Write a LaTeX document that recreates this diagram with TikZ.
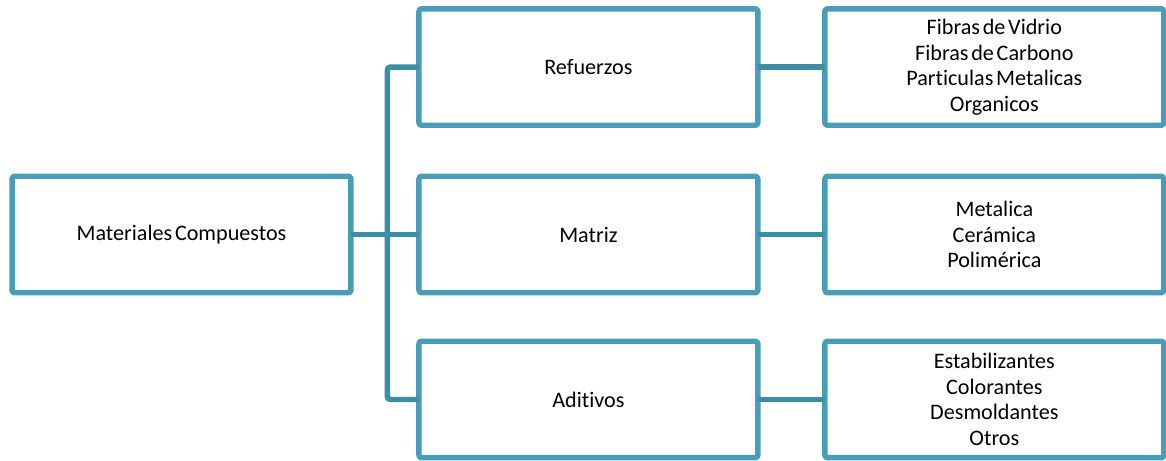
\documentclass[tikz,border=0pt]{standalone}
\usepackage{fontspec}
\setmainfont{Carlito}[Ligatures=NoCommon,WordSpace=0.55]
\usetikzlibrary{positioning}
\definecolor{boxblue}{RGB}{74,157,182}
\definecolor{linkblue}{RGB}{60,142,165}
\tikzset{every picture/.style={
  line join=round               % Soft joins on all strokes.
  }
}

\begin{document}
\begin{tikzpicture}[
    x=0.02cm,y=-0.02cm,
    node distance=1cm and 1.36cm,
    bx/.style={
      rectangle,
      rounded corners=1.5pt,
      draw=boxblue,
      line width=3.1pt,
      outer sep=0pt,
      minimum width=6.78cm,
      minimum height=2.33cm,
      align=center,
      font=\fontsize{12.6}{14.5}\selectfont
    },
    link/.style={
      draw=linkblue,
      line width=3.1pt,
      rounded corners=1.5pt
    }]

    % Fix the page to the size of the reference.
    \useasboundingbox (0,0) rectangle (1166,460);

    % The root box.
    \node[bx] (comp) at (181.5,234.5) {Materiales Compuestos};

    % The three components.
    \node[bx,right=of comp] (mat) {Matriz};
    \node[bx,above=1.02cm of mat] (ref) {Refuerzos};
    \node[bx,below=0.97cm of mat] (adi) {Aditivos};

    % Their kinds.
    \node[bx,right=1.34cm of ref] (refk)
      {Fibras de Vidrio\\Fibras de Carbono\\Particulas Metalicas\\Organicos};
    \node[bx,right=1.34cm of mat] (matk)
      {Metalica\\Cerámica\\Polimérica};
    \node[bx,right=1.34cm of adi] (adik)
      {Estabilizantes\\Colorantes\\Desmoldantes\\Otros};

    % Branch from the root to the components.
    \coordinate[right=0.73cm of comp.east] (j);
    \draw[link] (comp.east) -- (mat.west);
    \draw[link] (ref.west) -| (j) |- (adi.west);

    % Link each component to its kinds.
    \foreach \s in {ref,mat,adi} {
      \draw[link] (\s.east) -- (\s k.west);
    }
\end{tikzpicture}
\end{document}
